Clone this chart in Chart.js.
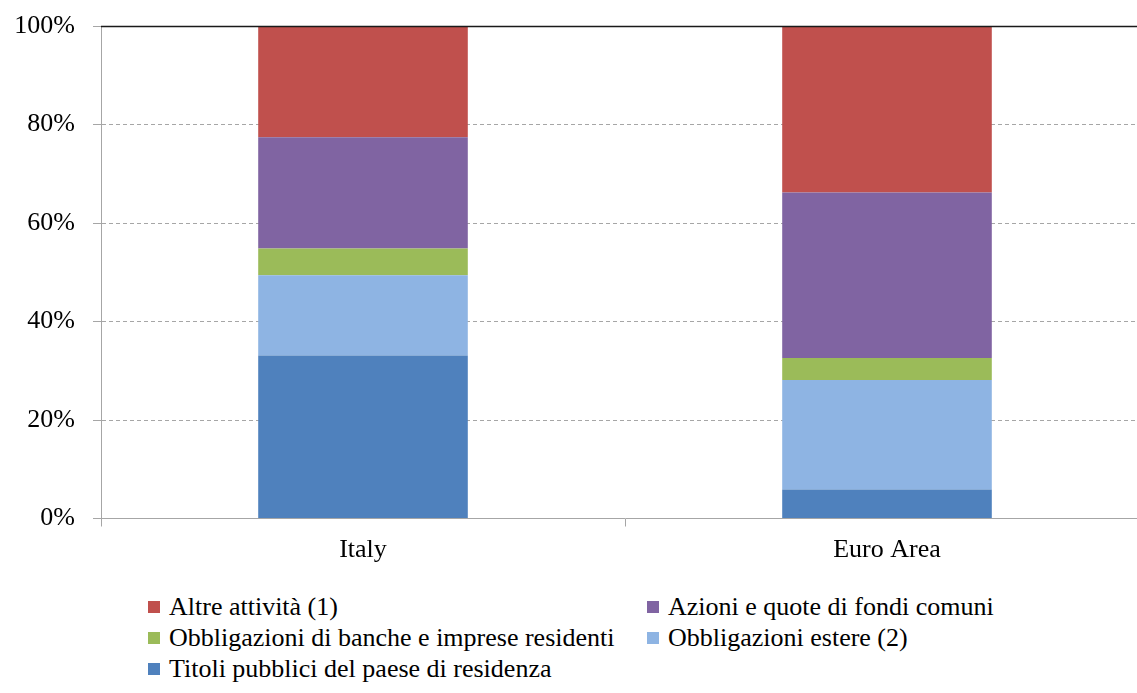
<!DOCTYPE html>
<html>
<head>
<meta charset="utf-8">
<script src="https://cdn.jsdelivr.net/npm/chart.js@4/dist/chart.umd.min.js"></script>
<style>
  html, body { margin: 0; padding: 0; background: #fff; overflow: hidden; }
  #wrap { position: absolute; left: 0; top: 0; width: 1160px; height: 693px; }
  #legend {
    position: absolute; left: 148px; top: 591px;
    display: grid; grid-template-columns: 499px auto;
    font-family: "Liberation Serif", "Times New Roman", serif;
    font-size: 26px; color: #000;
  }
  .item { display: flex; align-items: center; height: 31px; white-space: nowrap; }
  .box { width: 12px; height: 12px; margin-right: 9px; flex: none; }
</style>
</head>
<body>
<div id="wrap">
  <canvas id="chart" width="1160" height="580"></canvas>
  <div id="legend"></div>
</div>
<script>
// --- dati (quote % sul totale) ---
const categorie = ["Italy", "Euro Area"];
const titoliPubblici = [33.1, 5.9];
const obbligazioniEstere = [16.3, 22.2];
const obbligazioniResidenti = [5.4, 4.5];
const azioniFondi = [22.6, 33.6];
const altreAttivita = [22.6, 33.8];
const tickY = [0, 20, 40, 60, 80, 100];

const FONT = "'Liberation Serif', 'Times New Roman', serif";
const GRIGIO = '#a6a6a6';

// linea nera al 100%
const topLine = {
  id: 'topLine',
  afterDatasetsDraw(chart) {
    const y = Math.round(chart.scales.y.getPixelForValue(100)) + 0.5;
    const ctx = chart.ctx;
    ctx.save();
    ctx.strokeStyle = '#1a1a1a';
    ctx.lineWidth = 1.5;
    ctx.beginPath();
    ctx.moveTo(chart.chartArea.left, y);
    ctx.lineTo(chart.chartArea.right, y);
    ctx.stroke();
    ctx.restore();
  }
};

const chart = new Chart(document.getElementById('chart'), {
  type: 'bar',
  data: {
    labels: categorie,
    datasets: [
      { label: 'Titoli pubblici del paese di residenza', data: titoliPubblici, backgroundColor: '#4f81bd' },
      { label: 'Obbligazioni estere (2)', data: obbligazioniEstere, backgroundColor: '#8eb4e3' },
      { label: 'Obbligazioni di banche e imprese residenti', data: obbligazioniResidenti, backgroundColor: '#9bbb59' },
      { label: 'Azioni e quote di fondi comuni', data: azioniFondi, backgroundColor: '#8064a2' },
      { label: 'Altre attività (1)', data: altreAttivita, backgroundColor: '#c0504d' }
    ]
  },
  options: {
    responsive: false,
    animation: false,
    layout: { padding: { top: 26, right: 11, left: 0, bottom: 0 } },
    datasets: { bar: { categoryPercentage: 1, barPercentage: 0.4 } },
    plugins: { legend: { display: false }, tooltip: { enabled: false } },
    scales: {
      x: {
        stacked: true,
        offset: true,
        grid: { offset: true, drawOnChartArea: false, drawTicks: true, tickLength: 8, color: GRIGIO, tickBorderDash: [] },
        border: { color: GRIGIO, width: 1 },
        ticks: { color: '#000', padding: 8, font: { family: FONT, size: 26 } },
        afterFit: s => { s.height = 61.5; s.paddingLeft = 0; s.paddingRight = 0; }
      },
      y: {
        stacked: true,
        min: 0, max: 100,
        afterBuildTicks: s => { s.ticks = tickY.map(v => ({ value: v })); },
        grid: { color: GRIGIO, tickLength: 8, tickColor: GRIGIO, tickBorderDash: [] },
        border: { color: GRIGIO, width: 1, dash: [4, 3] },
        ticks: { color: '#000', padding: 18, font: { family: FONT, size: 26 }, callback: v => v + '%' },
        afterFit: s => { s.width = 101; s.paddingTop = 0; s.paddingBottom = 0; }
      }
    }
  },
  plugins: [topLine]
});

// legenda su due colonne (ordine inverso)
const legend = document.getElementById('legend');
chart.data.datasets.slice().reverse().forEach(ds => {
  const item = document.createElement('div');
  item.className = 'item';
  item.innerHTML = '<span class="box" style="background:' + ds.backgroundColor + '"></span><span>' + ds.label + '</span>';
  legend.appendChild(item);
});
</script>
</body>
</html>
